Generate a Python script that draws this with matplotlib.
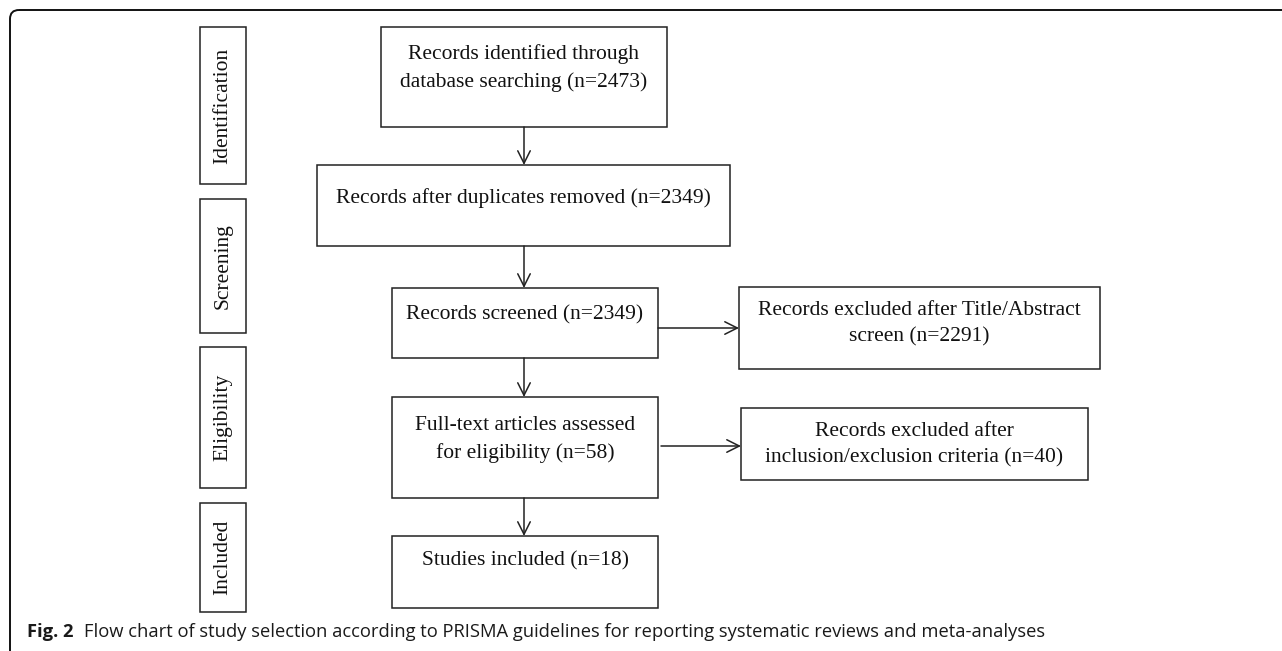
import matplotlib.pyplot as plt
from matplotlib.patches import Rectangle, FancyBboxPatch

# flow chart content
stages = ['Identification', 'Screening', 'Eligibility', 'Included']
main_labels = ['Records identified through\ndatabase searching',
               'Records after duplicates removed',
               'Records screened',
               'Full-text articles assessed\nfor eligibility',
               'Studies included']
main_counts = [2473, 2349, 2349, 58, 18]
excl_labels = ['Records excluded after Title/Abstract\nscreen',
               'Records excluded after\ninclusion/exclusion criteria']
excl_counts = [2291, 40]
caption_bold = 'Fig. 2'
caption_text = 'Flow chart of study selection according to PRISMA guidelines for reporting systematic reviews and meta-analyses'

# layout in pixels (x0, y0, x1, y1), y measured from the top
stage_boxes = [(200, 27, 246, 184), (200, 199, 246, 333), (200, 347, 246, 488), (200, 503, 246, 612)]
main_boxes = [(381, 27, 667, 127), (317, 165, 730, 246), (392, 288, 658, 358),
              (392, 397, 658, 498), (392, 536, 658, 608)]
main_text_y = [68, 198, 315, 439.5, 561]
excl_boxes = [(739, 287, 1100, 369), (741, 408, 1088, 480)]
excl_text_y = [324, 445]
excl_arrow_y = [328, 446]
arrow_x = 524

W, H = 1282, 651
fig = plt.figure(figsize=(W / 100, H / 100), dpi=100)
ax = fig.add_axes([0, 0, 1, 1])
ax.set_xlim(0, W)
ax.set_ylim(H, 0)
ax.axis('off')

serif = 'Liberation Serif'
fs = 15.5
lc = '#222222'

# outer frame, only top and left visible
ax.add_patch(FancyBboxPatch((10, 10), 1400, 800, boxstyle='round,pad=0,rounding_size=9',
                            fc='none', ec='#111111', lw=1.4))


def box(b):
    x0, y0, x1, y1 = b
    ax.add_patch(Rectangle((x0, y0), x1 - x0, y1 - y0, fc='white', ec=lc, lw=1.1))


def arrow(p0, p1):
    ax.annotate('', xy=p1, xytext=p0,
                arrowprops=dict(arrowstyle='->,head_length=0.9,head_width=0.45',
                                color=lc, lw=1.1, shrinkA=0, shrinkB=0))


for label, b in zip(stages, stage_boxes):
    box(b)
    ax.text((b[0] + b[2]) / 2, (b[1] + b[3]) / 2, label, rotation=90, ha='center', va='center',
            family=serif, fontsize=fs, color='#111111')

for label, n, b, ty in zip(main_labels, main_counts, main_boxes, main_text_y):
    box(b)
    ax.text((b[0] + b[2]) / 2, ty, f'{label} (n={n})', ha='center', va='center',
            family=serif, fontsize=fs, color='#111111', linespacing=1.5)

for label, n, b, ty in zip(excl_labels, excl_counts, excl_boxes, excl_text_y):
    box(b)
    ax.text((b[0] + b[2]) / 2, ty, f'{label} (n={n})', ha='center', va='center',
            family=serif, fontsize=fs, color='#111111', linespacing=1.5)

# vertical arrows between main boxes
for upper, lower in zip(main_boxes[:-1], main_boxes[1:]):
    arrow((arrow_x, upper[3]), (arrow_x, lower[1]))

# horizontal arrows to exclusion boxes
for src, dst, y in zip([main_boxes[2], main_boxes[3]], excl_boxes, excl_arrow_y):
    arrow((src[2] + (3 if src is main_boxes[3] else 0), y), (dst[0], y))

# caption
t = ax.text(27, 632, caption_bold, ha='left', va='center', family='Open Sans',
            fontsize=13.2, fontweight='bold', color='#1a1a1a')
fig.canvas.draw()
bb = t.get_window_extent()
ax.text(bb.x1 + 10, 632, caption_text, ha='left', va='center', family='Open Sans',
        fontsize=13.2, color='#1a1a1a')

fig.savefig('out.png', dpi=100)
